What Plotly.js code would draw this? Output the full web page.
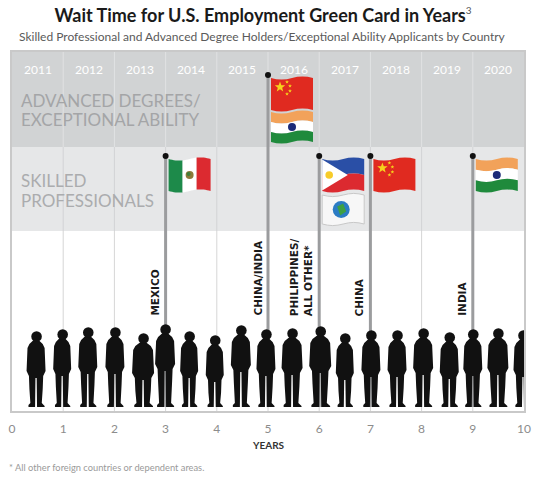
<!DOCTYPE html>
<html>
<head>
<meta charset="utf-8">
<script src="https://cdn.plot.ly/plotly-3.0.1.min.js"></script>
<style>html,body{margin:0;padding:0;background:#fff;}#chart{width:539px;height:480px;}</style>
</head>
<body>
<div id="chart"></div>
<script>
// ---------- DATA ----------
const countryLabels = ['MEXICO', 'CHINA/INDIA', 'PHILIPPINES/<br>ALL OTHER*', 'CHINA', 'INDIA'];
const waitYears = [3, 5, 6, 7, 9];
const categoryOfLabel = ['skilled', 'advanced', 'skilled', 'skilled', 'skilled'];
const flagsOfLabel = [['mexico'], ['china', 'india'], ['philippines', 'world'], ['china'], ['india']];
const categories = ['ADVANCED DEGREES/<br>EXCEPTIONAL ABILITY', 'SKILLED<br>PROFESSIONALS'];
const yearLabels = ['2011', '2012', '2013', '2014', '2015', '2016', '2017', '2018', '2019', '2020'];
const xTicks = [0, 1, 2, 3, 4, 5, 6, 7, 8, 9, 10];
// silhouettes in the queue (decoration)
const peopleAt = [0.47, 0.98, 1.48, 2.01, 2.56, 2.99, 3.46, 3.96, 4.47, 4.96, 5.47, 6.02, 6.5, 7.01, 7.52, 8.03, 8.54, 9.0, 9.49, 9.98];
const peopleHead = [331, 329, 327, 327, 333, 324, 331, 335, 325, 329, 328, 326, 333, 330, 330, 328, 332, 329, 328, 330];
const peopleBuild = [0.95, 0.9, 0.95, 0.95, 1.1, 1.0, 0.9, 0.9, 1.0, 0.95, 1.05, 1.1, 0.9, 0.95, 0.95, 1.0, 0.95, 0.95, 1.05, 0.95];

// ---------- GEOMETRY ----------
const W = 539, H = 480;
const M = {l: 12, r: 15, t: 52, b: 69};
const pxPerYear = (W - M.l - M.r) / 10;
const yTop = M.t, yBot = H - M.b;           // y axis is in pixel units (reversed)
const bandAdvBottom = 147, bandSkillBottom = 231;
const px = v => v / pxPerYear;               // pixel offset -> years
const toPaperY = py => (yBot - py) / (yBot - yTop);
const toPaperX = p => (p - M.l) / (W - M.l - M.r);

const shapes = [];
const annotations = [];

// bands
shapes.push({type: 'rect', layer: 'below', xref: 'x', yref: 'y', x0: 0, x1: 10, y0: yTop, y1: bandAdvBottom, fillcolor: '#d1d3d4', line: {width: 0}});
shapes.push({type: 'rect', layer: 'below', xref: 'x', yref: 'y', x0: 0, x1: 10, y0: bandAdvBottom, y1: bandSkillBottom, fillcolor: '#e6e7e8', line: {width: 0}});
// grid lines
xTicks.slice(1, -1).forEach(t => {
  shapes.push({type: 'line', layer: 'below', xref: 'x', yref: 'y', x0: t, x1: t, y0: yTop, y1: bandAdvBottom, line: {color: '#e1e2e3', width: 1}});
  shapes.push({type: 'line', layer: 'below', xref: 'x', yref: 'y', x0: t, x1: t, y0: bandAdvBottom, y1: bandSkillBottom, line: {color: '#d2d3d5', width: 1}});
  shapes.push({type: 'line', layer: 'below', xref: 'x', yref: 'y', x0: t, x1: t, y0: bandSkillBottom, y1: yBot, line: {color: '#d6d6d6', width: 1}});
});

// year labels
yearLabels.forEach((y, i) => {
  annotations.push({xref: 'x', yref: 'y', x: xTicks[i] + 0.5, y: 69, text: y, showarrow: false,
    xanchor: 'center', yanchor: 'middle', font: {family: 'Lato', size: 12, color: '#ffffff'}});
});

// band labels
const catLines = categories.map(c => c.split('<br>'));
[[catLines[0], [100, 119.5], 17, '#a4a5a7'], [catLines[1], [180.5, 200], 17, '#abacae']].forEach(([lines, ys, fs, col]) => {
  lines.forEach((t, k) => annotations.push({xref: 'x', yref: 'y', x: px(6.5), y: ys[k], text: t, showarrow: false,
    xanchor: 'left', yanchor: 'middle', font: {family: 'Lato', size: fs, color: col}}));
});

// flag helpers
function wavy(xa, xb, ya, yb, x0, w, amp) {
  const n = 8, pts = [];
  for (let i = 0; i <= n; i++) { const x = xa + (xb - xa) * i / n; pts.push([x, ya + amp * Math.sin(2 * Math.PI * (x - x0) / w)]); }
  for (let i = n; i >= 0; i--) { const x = xa + (xb - xa) * i / n; pts.push([x, yb + amp * Math.sin(2 * Math.PI * (x - x0) / w)]); }
  return 'M' + pts.map(p => p[0].toFixed(4) + ',' + p[1].toFixed(2)).join('L') + 'Z';
}
function sh(path, fill, line) {
  shapes.push({type: 'path', layer: 'above', xref: 'x', yref: 'y', path: path, fillcolor: fill, line: line || {width: 0}});
}
function circ(cx, cy, r, fill, line) {
  shapes.push({type: 'circle', layer: 'above', xref: 'x', yref: 'y', x0: cx - px(r), x1: cx + px(r), y0: cy - r, y1: cy + r, fillcolor: fill, line: line || {width: 0}});
}
function star(cx, cy, r, fill) {
  const pts = [];
  for (let i = 0; i < 10; i++) {
    const a = -Math.PI / 2 + i * Math.PI / 5, rr = i % 2 ? r * 0.42 : r;
    pts.push([cx + px(rr * Math.cos(a)), cy + rr * Math.sin(a)]);
  }
  sh('M' + pts.map(p => p[0].toFixed(4) + ',' + p[1].toFixed(2)).join('L') + 'Z', fill);
}
function drawFlag(kind, x0, yT, wpx, hpx) {
  const w = px(wpx), x1 = x0 + w, amp = 1.6;
  const yB = yT + hpx, yM = (yT + yB) / 2;
  if (kind === 'china') {
    sh(wavy(x0, x1, yT, yB, x0, w, amp), '#e02a20');
    star(x0 + px(9), yT + 9, 5.5, '#f6d21c');
    [[16, 4], [19, 8], [19, 13], [16, 16]].forEach(p => star(x0 + px(p[0]), yT + p[1], 2, '#f6d21c'));
  } else if (kind === 'india') {
    const h3 = hpx / 3;
    sh(wavy(x0, x1, yT, yT + h3, x0, w, amp), '#f2a25a');
    sh(wavy(x0, x1, yT + h3, yT + 2 * h3, x0, w, amp), '#ffffff');
    sh(wavy(x0, x1, yT + 2 * h3, yB, x0, w, amp), '#1f8a3c');
    circ(x0 + w / 2, yM, 4, '#1c2a78');
  } else if (kind === 'mexico') {
    const w3 = w / 3;
    sh(wavy(x0, x0 + w3, yT, yB, x0, w, amp), '#1d8a4a');
    sh(wavy(x0 + w3, x0 + 2 * w3, yT, yB, x0, w, amp), '#ffffff');
    sh(wavy(x0 + 2 * w3, x1, yT, yB, x0, w, amp), '#dc2a30');
    circ(x0 + w / 2, yM, 4, '#8c7a3a');
    circ(x0 + w / 2 - px(1), yM - 1, 2, '#3e7d3a');
  } else if (kind === 'philippines') {
    sh(wavy(x0, x1, yT, yM, x0, w, amp), '#2a4fa6');
    sh(wavy(x0, x1, yM, yB, x0, w, amp), '#dc2a30');
    sh('M' + x0 + ',' + (yT + 0.5) + 'L' + (x0 + px(hpx * 0.8)) + ',' + yM + 'L' + x0 + ',' + (yB - 0.5) + 'Z', '#ffffff');
    circ(x0 + px(7), yM, 3.8, '#f7cc2a');
  } else if (kind === 'world') {
    sh(wavy(x0, x1, yT, yB, x0, w, amp), '#f7f7f7', {color: '#c8c8c8', width: 1});
    circ(x0 + w / 2 - px(2), yM, 8.5, '#2b7cc4');
    sh('M' + (x0 + w / 2 - px(6)) + ',' + (yM - 3) + 'L' + (x0 + w / 2) + ',' + (yM - 6) + 'L' + (x0 + w / 2 + px(3)) + ',' + (yM + 2) + 'L' + (x0 + w / 2 - px(3)) + ',' + (yM + 6) + 'Z', '#3ea043');
  }
}

// poles + flags + vertical labels
const poleX = [], poleY = [], knobX = [], knobY = [];
waitYears.forEach((v, i) => {
  const adv = categoryOfLabel[i] === 'advanced';
  const top = adv ? 75 : 156;
  poleX.push(v, v, null); poleY.push(top, yBot - 4, null);
  knobX.push(v); knobY.push(top);
  const firstTop = adv ? 78 : 159;
  const hs = adv ? [32, 30] : [32, 29];
  const gap = adv ? 34 : 36;
  flagsOfLabel[i].forEach((f, k) => drawFlag(f, v + px(3), firstTop + k * gap, 42, hs[k]));
  annotations.push({xref: 'x', yref: 'y', x: v, y: 318, xshift: -3, text: countryLabels[i], textangle: -90, showarrow: false,
    xanchor: 'right', yanchor: 'bottom', align: 'left',
    font: {family: 'DejaVu Sans', size: 10.5, color: '#1a1a1a', weight: 700}});
});

// silhouettes
peopleAt.forEach((cx, i) => {
  const t = peopleHead[i], b = peopleBuild[i], f = yBot - 4;
  const P = (dx, y) => (cx + px(dx)).toFixed(4) + ',' + y.toFixed(1);
  const path = 'M' + [
    P(-2.5, t + 9), P(2.5, t + 9), P(7 * b, t + 13), P(9 * b, t + 17), P(10 * b, t + 40), P(7.5 * b, t + 45),
    P(7 * b, t + 58), P(6 * b, f - 4), P(9 * b, f - 1), P(9 * b, f), P(1, f), P(0.6, t + 47),
    P(-0.6, t + 47), P(-1, f), P(-8 * b, f), P(-8 * b, f - 2), P(-6 * b, f - 4), P(-7 * b, t + 58),
    P(-7.5 * b, t + 45), P(-10 * b, t + 40), P(-9 * b, t + 17), P(-7 * b, t + 13)
  ].join('L') + 'Z';
  sh(path, '#111111');
  circ(cx + px(0.5), t + 5.5, 5.3, '#111111');
});

// subtitle, axis title, footnote
annotations.push({xref: 'paper', yref: 'paper', x: toPaperX(262), y: toPaperY(37), text: 'Skilled Professional and Advanced Degree Holders/Exceptional Ability Applicants by Country',
  showarrow: false, xanchor: 'center', yanchor: 'middle', font: {family: 'Lato', size: 12, color: '#5a5a5a'}});
annotations.push({xref: 'x', yref: 'paper', x: 5, y: toPaperY(445), text: '<b>YEARS</b>', showarrow: false,
  xanchor: 'center', yanchor: 'middle', font: {family: 'Lato', size: 10, color: '#333333'}});
annotations.push({xref: 'paper', yref: 'paper', x: toPaperX(7), y: toPaperY(467), text: '* All other foreign countries or dependent areas.', showarrow: false,
  xanchor: 'left', yanchor: 'middle', font: {family: 'Lato', size: 9.3, color: '#9a9a9a'}});

const traces = [
  {type: 'scatter', mode: 'lines', x: poleX, y: poleY, line: {color: '#9b9c9e', width: 3}, hoverinfo: 'skip', showlegend: false, cliponaxis: false},
  {type: 'scatter', mode: 'markers', x: knobX, y: knobY, marker: {color: '#111', size: 6}, hoverinfo: 'skip', showlegend: false, cliponaxis: false}
];

const layout = {
  width: W, height: H,
  margin: {l: M.l, r: M.r, t: M.t, b: M.b, pad: 0},
  paper_bgcolor: '#ffffff', plot_bgcolor: '#ffffff',
  title: {text: '<b>Wait Time for U.S. Employment Green Card in Years</b><sup><span style="font-size:10px;color:#555">3</span></sup>',
    x: 263 / W, xanchor: 'center', y: 1 - 15.5 / H, yanchor: 'middle', font: {family: 'Lato', size: 18, color: '#1a1a1a'}},
  xaxis: {range: [0, 10], tickvals: xTicks, ticktext: xTicks.map(String), ticks: '', showgrid: false, zeroline: false,
    showline: true, mirror: true, linecolor: '#c9c9c9', linewidth: 2, ticklabelstandoff: 6,
    tickfont: {family: 'Lato', size: 12, color: '#8c8c8c'}, fixedrange: true},
  yaxis: {range: [yBot, yTop], showticklabels: false, showgrid: false, zeroline: false,
    showline: true, mirror: true, linecolor: '#c9c9c9', linewidth: 2, fixedrange: true},
  shapes: shapes, annotations: annotations, showlegend: false, hovermode: false
};

Plotly.newPlot('chart', traces, layout, {displayModeBar: false, staticPlot: true});
</script>
</body>
</html>
